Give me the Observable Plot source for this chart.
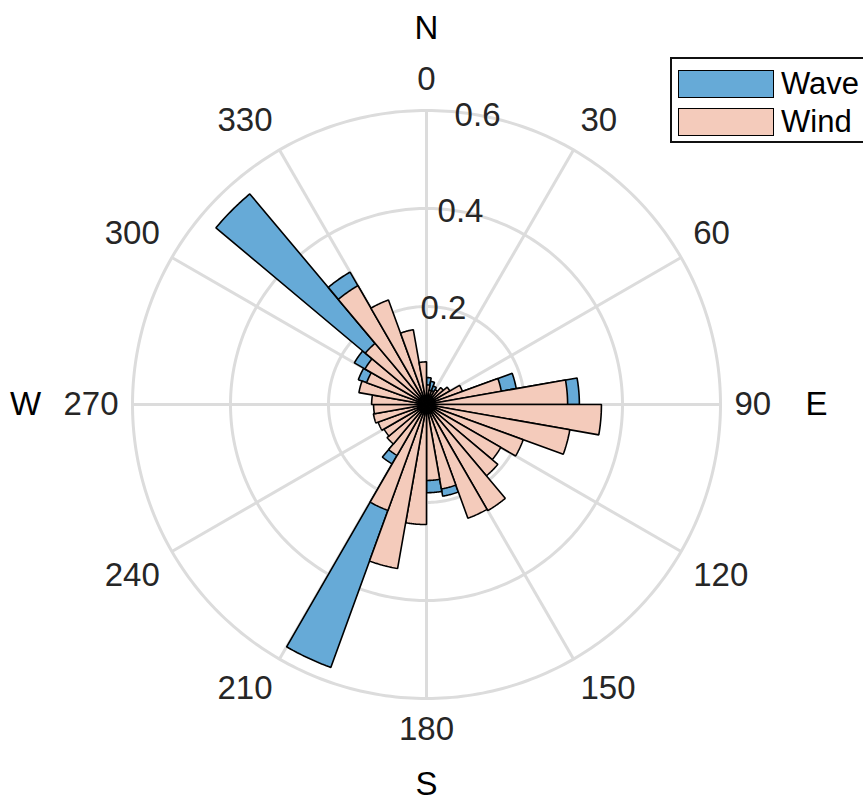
<!DOCTYPE html>
<html>
<head>
<meta charset="utf-8">
<script src="https://cdn.jsdelivr.net/npm/d3@7"></script>
<script src="https://cdn.jsdelivr.net/npm/@observablehq/plot@0.6"></script>
<style>
  html, body { margin: 0; padding: 0; background: #fff; overflow: hidden; }
  #chart { position: relative; width: 863px; height: 801px; overflow: hidden; }
  .legend {
    position: absolute; left: 670px; top: 57px; width: 215px; height: 86px;
    box-sizing: border-box; border: 2.5px solid #111; background: #fff;
    font-family: "Liberation Sans", Arial, sans-serif; font-size: 31px; color: #000;
  }
  .legend .row { position: absolute; left: 6px; display: flex; align-items: center; }
  .legend .sw { width: 96px; height: 28px; box-sizing: border-box; border: 1.5px solid #000; margin-right: 7px; }
</style>
</head>
<body>
<div id="chart"></div>
<script>
// Direction bins (degrees clockwise from north), 10° wide
const binStarts = [0, 10, 20, 30, 40, 50, 60, 70, 80, 90, 100, 110, 120, 130, 140, 150, 160, 170,
                   180, 190, 200, 210, 220, 230, 240, 250, 260, 270, 280, 290, 300, 310, 320, 330, 340, 350];
const binWidth = 10;

// Wave direction frequencies per bin
const wave = [0.055, 0.048, 0.040, 0.020, 0.020, 0.030, 0.050, 0.186, 0.312, 0.200, 0.120, 0.080,
              0.060, 0.080, 0.100, 0.150, 0.190, 0.180, 0.120, 0.200, 0.571, 0.140, 0.050, 0.040,
              0.030, 0.030, 0.030, 0.040, 0.080, 0.148, 0.170, 0.561, 0.312, 0.100, 0.050, 0.040];

// Wind direction frequencies per bin
const wind = [0.040, 0.030, 0.030, 0.035, 0.045, 0.055, 0.078, 0.155, 0.288, 0.357, 0.297, 0.210,
              0.175, 0.190, 0.250, 0.247, 0.175, 0.155, 0.245, 0.340, 0.230, 0.120, 0.105, 0.100,
              0.105, 0.110, 0.108, 0.112, 0.140, 0.130, 0.145, 0.163, 0.280, 0.227, 0.155, 0.087];

const seriesNames = ["Wave", "Wind"];
const seriesColors = ["#66AAD7", "#F4CBBB"];

// Axis ticks
const thetaTicks = [0, 30, 60, 90, 120, 150, 180, 210, 240, 270, 300, 330];
const rTicks = [0.2, 0.4, 0.6];
const rMax = 0.6;
const rTickAngle = 10;
const compassLabels = ["N", "E", "S", "W"];
const compassAngles = [0, 90, 180, 270];

// Layout
const W = 863, H = 801, CX = 426, CY = 404;
const K = 490;              // pixels per unit of radius
const FONT = 33;
const deg = Math.PI / 180;
const px = (p) => p / K;    // pixel length -> radial units
const polar = (r, a) => [r * Math.sin(a * deg), r * Math.cos(a * deg)];

// One closed wedge per bin: centre, then the outer arc
function wedges(values, name) {
  const pts = [];
  values.forEach((v, i) => {
    const a0 = binStarts[i], a1 = a0 + binWidth;
    pts.push({key: name + i, x: 0, y: 0});
    for (let a = a0; a <= a1 + 1e-9; a += 0.5) {
      const [x, y] = polar(v, a);
      pts.push({key: name + i, x, y});
    }
  });
  return pts;
}

// Grid rings
const ringPts = [];
rTicks.forEach((r) => {
  for (let a = 0; a <= 360; a += 1) {
    const [x, y] = polar(r, a);
    ringPts.push({r, x, y});
  }
});

// Angle labels: the label box corner nearest the centre sits on a fixed radius
const LABEL_R = 308;
const thetaLabels = thetaTicks.map((t) => {
  const s = String(t);
  const halfW = s.length * FONT * 0.556 / 2, halfH = 17;
  const sx = Math.sin(t * deg), cy = Math.cos(t * deg);
  const sgn = (v) => (Math.abs(v) < 1e-6 ? 0 : Math.sign(v));
  const xp = LABEL_R * sx + sgn(sx) * halfW;
  const yp = LABEL_R * cy + sgn(cy) * halfH;
  return {text: s, x: px(xp), y: px(yp)};
});

// Compass letters beyond the angle labels
const compassRadius = [376, 390, 380, 401];
const compassPos = compassLabels.map((c, i) => {
  const [x, y] = polar(px(compassRadius[i]), compassAngles[i]);
  return {text: c, x, y};
});

const rLabels = rTicks.map((r) => {
  const [x, y] = polar(r, rTickAngle);
  return {text: String(r), x, y};
});

const barStyle = {stroke: "#000", strokeWidth: 1.6, strokeLinejoin: "miter", strokeMiterlimit: 1, curve: "linear-closed"};

const plot = Plot.plot({
  width: W, height: H, margin: 0,
  x: {domain: [-CX / K, (W - CX) / K], range: [0, W], axis: null},
  y: {domain: [-(H - CY) / K, CY / K], range: [H, 0], axis: null},
  style: {fontFamily: "'Liberation Sans', Arial, sans-serif", background: "#fff"},
  marks: [
    Plot.line(ringPts, {x: "x", y: "y", z: "r", stroke: "#DCDCDC", strokeWidth: 3}),
    Plot.link(thetaTicks, {
      x1: 0, y1: 0,
      x2: (t) => polar(rMax, t)[0], y2: (t) => polar(rMax, t)[1],
      stroke: "#DCDCDC", strokeWidth: 3
    }),
    Plot.line(wedges(wave, "wave"), {x: "x", y: "y", z: "key", fill: seriesColors[0], ...barStyle}),
    Plot.line(wedges(wind, "wind"), {x: "x", y: "y", z: "key", fill: seriesColors[1], ...barStyle}),
    Plot.text(rLabels, {x: "x", y: "y", text: "text", fontSize: FONT, fill: "#262626", lineAnchor: "middle"}),
    Plot.text(thetaLabels, {x: "x", y: "y", text: "text", fontSize: FONT, fill: "#262626", lineAnchor: "middle"}),
    Plot.text(compassPos, {x: "x", y: "y", text: "text", fontSize: FONT, fill: "#000", lineAnchor: "middle"})
  ]
});

const chart = document.getElementById("chart");
chart.appendChild(plot);

// Legend
const legend = document.createElement("div");
legend.className = "legend";
seriesNames.forEach((name, i) => {
  const row = document.createElement("div");
  row.className = "row";
  row.style.top = (i === 0 ? 7 : 45) + "px";
  const sw = document.createElement("div");
  sw.className = "sw";
  sw.style.background = seriesColors[i];
  const label = document.createElement("span");
  label.textContent = name;
  row.appendChild(sw);
  row.appendChild(label);
  legend.appendChild(row);
});
chart.appendChild(legend);
</script>
</body>
</html>
